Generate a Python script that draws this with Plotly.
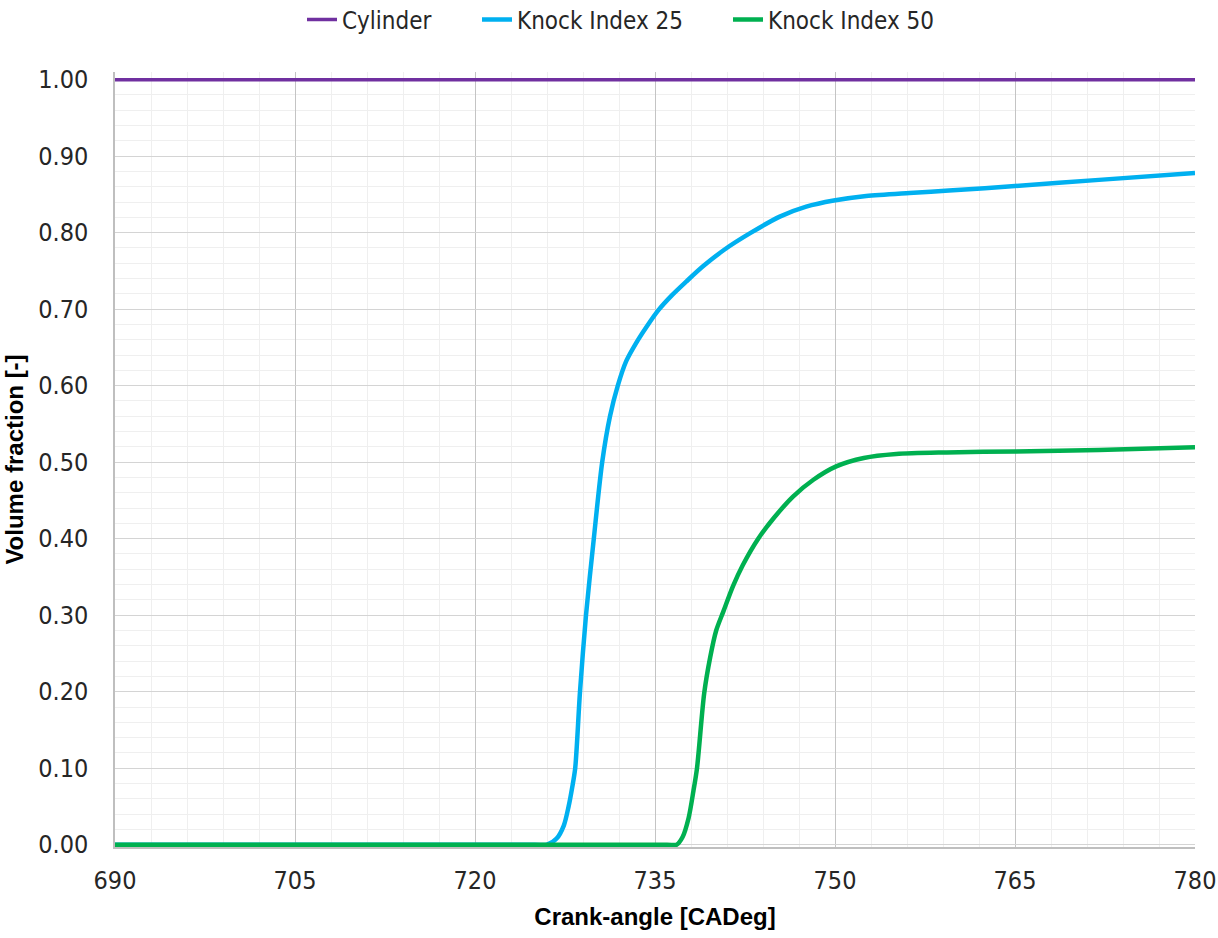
import plotly.graph_objects as go

# Crank angle [CADeg] and volume fraction for each region
cyl_angle = [690, 780]
cyl_frac = [1.0, 1.0]

ki25_angle = [690, 725.0, 726.0, 726.8, 727.4, 727.8, 728.1, 728.35, 728.75, 729.25,
              729.9, 730.6, 731.25, 731.9, 732.6, 733.4, 734.3, 735.3, 736.4, 737.6,
              739.0, 740.8, 743.0, 745.4, 747.6, 749.9, 752.6, 756.2, 759.5, 765,
              772, 780]
ki25_frac = [0, 0, 0, 0.008, 0.025, 0.05, 0.075, 0.10, 0.20, 0.30,
             0.40, 0.50, 0.56, 0.60, 0.632, 0.655, 0.677, 0.699, 0.718, 0.736,
             0.756, 0.778, 0.80, 0.821, 0.834, 0.842, 0.848, 0.852, 0.855, 0.861,
             0.869, 0.878]

ki50_angle = [690, 736.0, 736.8, 737.3, 737.8, 738.2, 738.5, 739.1, 739.6, 740.1,
              740.7, 741.5, 742.3, 743.6, 744.9, 746.5, 748.2, 750.1, 752.4, 755.1,
              759.3, 765, 772, 780]
ki50_frac = [0, 0, 0, 0.01, 0.035, 0.07, 0.10, 0.198, 0.245, 0.28,
             0.305, 0.338, 0.365, 0.40, 0.427, 0.455, 0.477, 0.4945, 0.5055, 0.5107,
             0.5128, 0.514, 0.516, 0.5194]

x_ticks = [690, 705, 720, 735, 750, 765, 780]
y_ticks = [0.0, 0.1, 0.2, 0.3, 0.4, 0.5, 0.6, 0.7, 0.8, 0.9, 1.0]

NARROW = "Liberation Sans Narrow, Arial Narrow, DejaVu Sans Condensed, Roboto, sans-serif"
BOLD = "Liberation Sans, Arial, sans-serif"
TXT = "#262626"

fig = go.Figure()
fig.add_trace(go.Scatter(x=cyl_angle, y=cyl_frac, mode="lines", name="Cylinder",
                         line=dict(color="#7030A0", width=3.5), legend="legend"))
fig.add_trace(go.Scatter(x=ki25_angle, y=ki25_frac, mode="lines", name="Knock Index 25",
                         line=dict(color="#00B0F0", width=4.5, shape="spline", smoothing=0.8),
                         legend="legend2"))
fig.add_trace(go.Scatter(x=ki50_angle, y=ki50_frac, mode="lines", name="Knock Index 50",
                         line=dict(color="#00B050", width=4.5, shape="spline", smoothing=0.8),
                         legend="legend3"))

def legend_at(px_left):
    return dict(orientation="h", x=(px_left - 115) / 1080, xanchor="left",
                yref="container", y=1 - 20 / 938, yanchor="middle",
                font=dict(family=NARROW, size=24, color=TXT),
                bgcolor="rgba(0,0,0,0)", borderwidth=0)

fig.update_layout(
    width=1218, height=938,
    margin=dict(l=115, r=23, t=72, b=91),
    paper_bgcolor="white", plot_bgcolor="white",
    showlegend=True,
    legend=legend_at(302),
    legend2=legend_at(477),
    legend3=legend_at(728),
    xaxis=dict(
        range=[690, 780], tickvals=x_ticks, ticktext=[str(v) for v in x_ticks],
        automargin=False,
        showgrid=True, gridcolor="#c4c4c4", gridwidth=1,
        minor=dict(dtick=3, showgrid=True, gridcolor="#efefef", gridwidth=1),
        showline=True, linecolor="#bfbfbf", linewidth=1.5,
        zeroline=False, ticks="", ticklabelstandoff=10,
        tickfont=dict(family=NARROW, size=25, color=TXT),
        title=dict(text="<b>Crank-angle [CADeg]</b>", standoff=14,
                   font=dict(family=BOLD, size=24, color="black")),
    ),
    yaxis=dict(
        range=[-0.003, 1.01], tickvals=y_ticks, tickformat=".2f",
        automargin=False,
        showgrid=True, gridcolor="#d4d4d4", gridwidth=1,
        minor=dict(tick0=0, dtick=0.02, showgrid=True, gridcolor="#efefef", gridwidth=1),
        showline=True, linecolor="#bfbfbf", linewidth=1.5,
        zeroline=False, ticks="", ticklabelstandoff=20,
        tickfont=dict(family=NARROW, size=25, color=TXT),
        title=dict(text="<b>Volume fraction [-]</b>", standoff=8,
                   font=dict(family=BOLD, size=24, color="black")),
    ),
)

fig.write_html("out.html")
